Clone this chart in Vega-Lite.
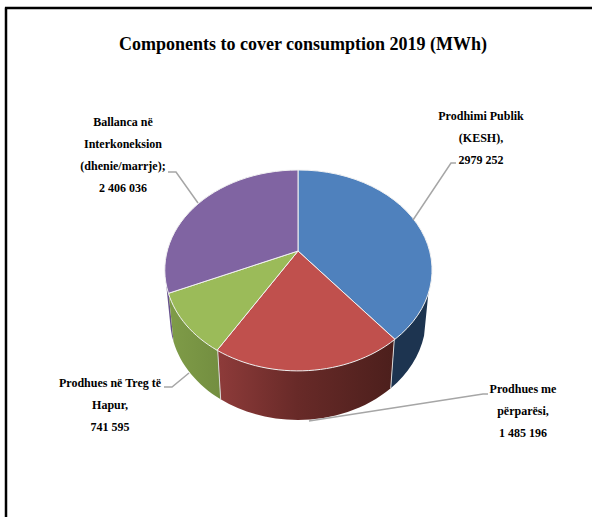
{
  "$schema": "https://vega.github.io/schema/vega-lite/v6.json",
  "width": 592,
  "height": 517,
  "padding": 0,
  "autosize": "none",
  "background": "white",
  "config": {"view": {"stroke": null}},
  "title": {
    "text": "Components to cover consumption 2019 (MWh)",
    "font": "Liberation Serif",
    "fontWeight": "bold",
    "fontSize": 18,
    "color": "#000000",
    "anchor": "middle",
    "offset": -54,
    "dx": 7
  },
  "data": {
    "values": [
      {"component": "Prodhimi Publik (KESH)", "value": 2979252, "label": "Prodhimi Publik\n(KESH),\n2979 252"},
      {"component": "Prodhues me përparësi", "value": 1485196, "label": "Prodhues me\npërparësi,\n1 485 196"},
      {"component": "Prodhues në Treg të Hapur", "value": 741595, "label": "Prodhues në Treg të\nHapur,\n741 595"},
      {"component": "Ballanca në Interkoneksion", "value": 2406036, "label": "Ballanca në\nInterkoneksion\n(dhenie/marrje);\n2 406 036"}
    ]
  },
  "transform": [
    {"joinaggregate": [{"op": "sum", "field": "value", "as": "total"}]},
    {"window": [{"op": "sum", "field": "value", "as": "cum"}], "frame": [null, 0]},
    {"calculate": "2 * PI * datum.cum / datum.total", "as": "a1"},
    {"calculate": "datum.a1 - 2 * PI * datum.value / datum.total", "as": "a0"},
    {"calculate": "round(100 * 130.5 * sin(datum.a0) / (1 + 0.194 * cos(datum.a0))) / 100", "as": "x0"},
    {"calculate": "round(-100 * 96.7 * cos(datum.a0) / (1 + 0.194 * cos(datum.a0))) / 100", "as": "y0"},
    {"calculate": "round(100 * 130.5 * sin(datum.a1) / (1 + 0.194 * cos(datum.a1))) / 100", "as": "x1"},
    {"calculate": "round(-100 * 96.7 * cos(datum.a1) / (1 + 0.194 * cos(datum.a1))) / 100", "as": "y1"},
    {"calculate": "'M0,0L' + datum.x0 + ',' + datum.y0 + 'A133,100,0,0,1,' + datum.x1 + ',' + datum.y1 + 'Z'", "as": "topPath"},
    {"calculate": "atan2(datum.x0 / 133, (19 - datum.y0) / 100)", "as": "p0"},
    {"calculate": "atan2(datum.x1 / 133, (19 - datum.y1) / 100)", "as": "p1"},
    {"calculate": "max(datum.p0 < -0.001 ? datum.p0 + 2 * PI : datum.p0, 1.745)", "as": "tA"},
    {"calculate": "min(datum.p1 < 0.001 ? datum.p1 + 2 * PI : datum.p1, 4.6)", "as": "tB"},
    {"calculate": "round(100 * 133 * sin(datum.tA)) / 100 + ',' + round(100 * (19 - 100 * cos(datum.tA))) / 100", "as": "upA"},
    {"calculate": "round(100 * 133 * sin(datum.tB)) / 100 + ',' + round(100 * (19 - 100 * cos(datum.tB))) / 100", "as": "upB"},
    {"calculate": "round(100 * 128 * sin(datum.tA)) / 100 + ',' + round(100 * (67 - 102 * cos(datum.tA))) / 100", "as": "lowA"},
    {"calculate": "round(100 * 128 * sin(datum.tB)) / 100 + ',' + round(100 * (67 - 102 * cos(datum.tB))) / 100", "as": "lowB"},
    {"calculate": "'M' + datum.upA + 'A133,100,0,0,1,' + datum.upB + 'L' + datum.lowB + 'A128,102,0,0,0,' + datum.lowA + 'Z'", "as": "wallPath"},
    {"calculate": "'M' + datum.upB + 'L' + datum.lowB", "as": "seamPath"},
    {"calculate": "{'Prodhimi Publik (KESH)': 'M115,-31L153,-88L158,-88', 'Prodhues me përparësi': 'M11,170L185,143L190,143', 'Prodhues në Treg të Hapur': 'M-109,122L-126,136L-134,136', 'Ballanca në Interkoneksion': 'M-100,-48L-122,-79L-130,-79'}[datum.component]", "as": "leaderPath"},
    {"calculate": "{'Prodhimi Publik (KESH)': 481, 'Prodhues me përparësi': 523, 'Prodhues në Treg të Hapur': 110, 'Ballanca në Interkoneksion': 123}[datum.component]", "as": "labelX"},
    {"calculate": "{'Prodhimi Publik (KESH)': 116, 'Prodhues me përparësi': 389, 'Prodhues në Treg të Hapur': 383, 'Ballanca në Interkoneksion': 122}[datum.component]", "as": "labelY"}
  ],
  "layer": [
    {
      "transform": [{"filter": "datum.component == 'Prodhimi Publik (KESH)'"}],
      "mark": {"type": "rule", "color": "#000000", "strokeWidth": 2.5},
      "encoding": {
        "x": {"datum": 6, "type": "quantitative", "scale": {"domain": [0, 592], "nice": false, "zero": false}, "axis": null},
        "y": {"datum": 7.5, "type": "quantitative", "scale": {"domain": [517, 0], "nice": false, "zero": false}, "axis": null},
        "y2": {"datum": 517}
      }
    },
    {
      "transform": [{"filter": "datum.component == 'Prodhimi Publik (KESH)'"}],
      "mark": {"type": "rule", "color": "#000000", "strokeWidth": 2.5},
      "encoding": {
        "x": {"datum": 5, "type": "quantitative"},
        "x2": {"datum": 592},
        "y": {"datum": 8, "type": "quantitative"}
      }
    },
    {
      "transform": [{"filter": "datum.component == 'Ballanca në Interkoneksion'"}],
      "mark": {"type": "point", "filled": true, "opacity": 1, "size": 4, "fill": "#67518c", "strokeWidth": 0},
      "encoding": {
        "x": {"datum": 298, "type": "quantitative"},
        "y": {"datum": 251, "type": "quantitative"},
        "shape": {"field": "wallPath", "type": "nominal", "scale": null, "legend": null}
      }
    },
    {
      "transform": [{"filter": "datum.component == 'Prodhimi Publik (KESH)'"}],
      "mark": {"type": "point", "filled": true, "opacity": 1, "size": 4, "fill": "#1d3450", "strokeWidth": 0},
      "encoding": {
        "x": {"datum": 298, "type": "quantitative"},
        "y": {"datum": 251, "type": "quantitative"},
        "shape": {"field": "wallPath", "type": "nominal", "scale": null, "legend": null}
      }
    },
    {
      "transform": [{"filter": "datum.component == 'Prodhues me përparësi'"}],
      "mark": {
        "type": "point", "filled": true, "opacity": 1, "size": 4, "strokeWidth": 0,
        "fill": {"gradient": "linear", "x1": 0, "y1": 0, "x2": 1, "y2": 0, "stops": [
          {"offset": 0, "color": "#8e3b3a"},
          {"offset": 0.45, "color": "#682a28"},
          {"offset": 1, "color": "#4c1f1c"}
        ]}
      },
      "encoding": {
        "x": {"datum": 298, "type": "quantitative"},
        "y": {"datum": 251, "type": "quantitative"},
        "shape": {"field": "wallPath", "type": "nominal", "scale": null, "legend": null}
      }
    },
    {
      "transform": [{"filter": "datum.component == 'Prodhues në Treg të Hapur'"}],
      "mark": {
        "type": "point", "filled": true, "opacity": 1, "size": 4, "strokeWidth": 0,
        "fill": {"gradient": "linear", "x1": 0, "y1": 0, "x2": 1, "y2": 0, "stops": [
          {"offset": 0, "color": "#7f9c48"},
          {"offset": 1, "color": "#738e40"}
        ]}
      },
      "encoding": {
        "x": {"datum": 298, "type": "quantitative"},
        "y": {"datum": 251, "type": "quantitative"},
        "shape": {"field": "wallPath", "type": "nominal", "scale": null, "legend": null}
      }
    },
    {
      "transform": [{"filter": "datum.component == 'Prodhimi Publik (KESH)' || datum.component == 'Prodhues me përparësi'"}],
      "mark": {"type": "point", "filled": false, "opacity": 1, "size": 4, "stroke": "#d9d9d9", "strokeWidth": 1},
      "encoding": {
        "x": {"datum": 298, "type": "quantitative"},
        "y": {"datum": 251, "type": "quantitative"},
        "shape": {"field": "seamPath", "type": "nominal", "scale": null, "legend": null}
      }
    },
    {
      "mark": {"type": "point", "filled": true, "opacity": 1, "size": 4, "stroke": "#f2f2f2", "strokeWidth": 1},
      "encoding": {
        "x": {"datum": 298, "type": "quantitative"},
        "y": {"datum": 251, "type": "quantitative"},
        "shape": {"field": "topPath", "type": "nominal", "scale": null, "legend": null},
        "fill": {
          "field": "component", "type": "nominal", "legend": null,
          "scale": {
            "domain": ["Prodhimi Publik (KESH)", "Prodhues me përparësi", "Prodhues në Treg të Hapur", "Ballanca në Interkoneksion"],
            "range": ["#4f81bd", "#c0504d", "#9bbb59", "#8064a2"]
          }
        }
      }
    },
    {
      "mark": {"type": "point", "filled": false, "opacity": 1, "size": 4, "stroke": "#a6a6a6", "strokeWidth": 1.5},
      "encoding": {
        "x": {"datum": 298, "type": "quantitative"},
        "y": {"datum": 251, "type": "quantitative"},
        "shape": {"field": "leaderPath", "type": "nominal", "scale": null, "legend": null}
      }
    },
    {
      "mark": {
        "type": "text", "font": "Liberation Serif", "fontWeight": "bold", "fontSize": 12,
        "color": "#000000", "align": "center", "baseline": "middle", "lineBreak": "\n", "lineHeight": 22
      },
      "encoding": {
        "x": {"field": "labelX", "type": "quantitative"},
        "y": {"field": "labelY", "type": "quantitative"},
        "text": {"field": "label", "type": "nominal"}
      }
    }
  ]
}
